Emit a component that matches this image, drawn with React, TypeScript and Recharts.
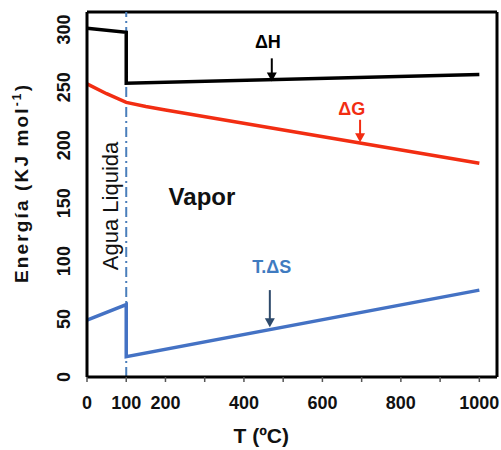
import React from 'react';
import { LineChart, Line, XAxis, YAxis, ReferenceLine, ReferenceDot } from 'recharts';

// ---- data ----
const dHTemps = [0, 100, 100, 1000];
const dHValues = [301, 297.5, 253.5, 261];
const dGTemps = [0, 50, 100, 150, 200, 1000];
const dGValues = [253, 244.5, 237, 233.4, 230.5, 184.5];
const tdsTemps = [0, 100, 100, 1000];
const tdsValues = [49, 62.5, 17.5, 75];

const xTicks = [0, 100, 200, 300, 400, 500, 600, 700, 800, 900, 1000];
const xTickLabels = ['0', '100', '200', '', '400', '', '600', '', '800', '', '1000'];
const yTicks = [0, 50, 100, 150, 200, 250, 300];

const toRows = (ts: number[], vs: number[]) => ts.map((t, i) => ({ T: t, v: vs[i] }));
const dHData = toRows(dHTemps, dHValues);
const dGData = toRows(dGTemps, dGValues);
const tdsData = toRows(tdsTemps, tdsValues);

const FONT = 'Liberation Sans, Arial, Helvetica, sans-serif';
const RED = '#f22d12';
const BLUE = '#4472c4';

const XTick = (props: any) => {
  const { x, y, payload } = props;
  const idx = xTicks.indexOf(payload.value);
  const label = idx >= 0 ? xTickLabels[idx] : '';
  return (
    <text x={x} y={y} dy="0.71em" textAnchor="middle" fontFamily={FONT} fontSize={18} fontWeight="bold" fill="#111">
      {label}
    </text>
  );
};

const makeArrow = (color: string) => (p: any) => {
  const { x1, y1, x2, y2 } = p;
  const head = 9;
  const hw = 5;
  return (
    <g>
      <line x1={x1} y1={y1} x2={x2} y2={y2 - head + 1} stroke={color} strokeWidth={2} />
      <polygon points={`${x2 - hw},${y2 - head} ${x2 + hw},${y2 - head} ${x2},${y2}`} fill={color} />
    </g>
  );
};

const makeText = (text: string, color: string, size: number, weight: string, rotate = false, offX = 0) => (p: any) => {
  const cx = Number(p.cx) + offX;
  const cy = Number(p.cy);
  if (rotate) {
    return (
      <g transform={`translate(${cx},${cy}) rotate(-90)`}>
        <text x={0} y={0} textAnchor="middle" dy="0.35em" fontFamily={FONT} fontSize={size} fontWeight={weight} fill={color}>
          {text}
        </text>
      </g>
    );
  }
  return (
    <text x={cx} y={cy} textAnchor="middle" fontFamily={FONT} fontSize={size} fontWeight={weight} fill={color}>
      {text}
    </text>
  );
};

const XTitle = (props: any) => {
  const vb = props.viewBox || { x: 87, y: 377, width: 410, height: 73 };
  const x = vb.x + vb.width * 0.425;
  const y = vb.y + 66;
  return (
    <text x={x} y={y} textAnchor="middle" fontFamily={FONT} fontSize={21} fontWeight="bold" fill="#111">
      T (ºC)
    </text>
  );
};

const YTitle = (props: any) => {
  const vb = props.viewBox || { x: 0, y: 12, width: 87, height: 365 };
  const x = vb.x + 28;
  const y = vb.y + 271;
  return (
    <g transform={`translate(${x},${y}) rotate(-90)`}>
      <text
        x={0}
        y={0}
        textAnchor="start"
        fontFamily={FONT}
        fontSize={19}
        fontWeight="bold"
        fill="#111"
        textLength={198}
        lengthAdjust="spacing"
      >
        Energía  (KJ mol<tspan dy={-7} fontSize={12}>-1</tspan>
        <tspan dy={7}>)</tspan>
      </text>
    </g>
  );
};

export default function App() {
  return (
    <div style={{ position: 'absolute', left: 0, top: 0, width: 501, height: 450, background: '#fff' }}>
      <LineChart width={501} height={450} margin={{ top: 12, right: 4, left: 0, bottom: 0 }}>
        <XAxis
          type="number"
          dataKey="T"
          domain={[0, 1045]}
          ticks={xTicks}
          height={73}
          axisLine={{ stroke: '#000', strokeWidth: 3 }}
          tickLine={{ stroke: '#555', strokeWidth: 1.5 }}
          tickSize={5}
          tickMargin={14}
          tick={<XTick />}
          interval={0}
          label={<XTitle />}
        />
        <YAxis
          type="number"
          dataKey="v"
          domain={[0, 315]}
          ticks={yTicks}
          width={87}
          axisLine={{ stroke: '#000', strokeWidth: 3 }}
          tickLine={{ stroke: '#7f98c0', strokeWidth: 1.5 }}
          tickSize={5}
          tick={false}
          interval={0}
          label={<YTitle />}
        />
        <ReferenceLine y={315} stroke="#000" strokeWidth={3} />
        <ReferenceLine x={1045} stroke="#000" strokeWidth={3} />
        <ReferenceLine x={100} stroke="#4a7ebb" strokeWidth={2} strokeDasharray="10 4 2 4" />

        <Line data={dHData} dataKey="v" type="linear" stroke="#000" strokeWidth={3.5} dot={false} isAnimationActive={false} />
        <Line data={dGData} dataKey="v" type="linear" stroke={RED} strokeWidth={3.5} dot={false} isAnimationActive={false} />
        <Line data={tdsData} dataKey="v" type="linear" stroke={BLUE} strokeWidth={3.5} dot={false} isAnimationActive={false} />

        {yTicks.map((t) => (
          <ReferenceDot
            key={`yt${t}`}
            x={0}
            y={t}
            r={0}
            ifOverflow="visible"
            shape={makeText(String(t), '#111', 18, 'bold', true, -23)}
          />
        ))}

        <ReferenceLine segment={[{ x: 471, y: 275 }, { x: 471, y: 255 }]} shape={makeArrow('#000')} />
        <ReferenceLine segment={[{ x: 696, y: 222 }, { x: 696, y: 202.5 }]} shape={makeArrow(RED)} />
        <ReferenceLine segment={[{ x: 466, y: 75 }, { x: 466, y: 43 }]} shape={makeArrow('#2e4a6b')} />

        <ReferenceDot x={461} y={284} r={0} shape={makeText('ΔH', '#000', 18, 'bold')} />
        <ReferenceDot x={675} y={226} r={0} shape={makeText('ΔG', RED, 18, 'bold')} />
        <ReferenceDot x={471} y={90} r={0} shape={makeText('T.ΔS', '#3f7bc0', 18, 'bold')} />
        <ReferenceDot x={293} y={148.4} r={0} shape={makeText('Vapor', '#111', 24, 'bold')} />
        <ReferenceDot x={58.6} y={147.6} r={0} shape={makeText('Agua Liquida', '#111', 22, 'normal', true)} />
      </LineChart>
    </div>
  );
}
